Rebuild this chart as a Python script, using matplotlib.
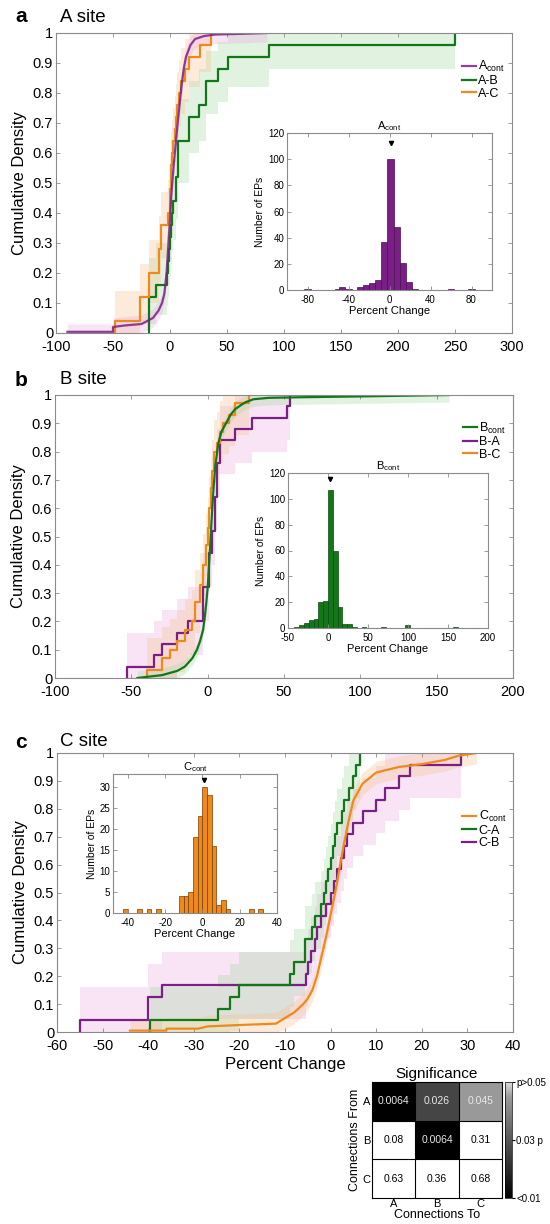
import matplotlib
matplotlib.use("Agg")
import matplotlib.pyplot as plt
import matplotlib.colors as mcolors
import numpy as np

plt.rcParams['font.family'] = ['Liberation Sans', 'DejaVu Sans']
plt.rcParams['mathtext.fontset'] = 'custom'
plt.rcParams['mathtext.rm'] = 'Liberation Sans'
plt.rcParams['axes.unicode_minus'] = False

PURPLE = '#7a1f86'
GREEN = '#13771a'
ORANGE = '#ee8a1c'
PURPLE_BAND = '#e9a6e0'
GREEN_BAND = '#9ed69e'
ORANGE_BAND = '#f7c08a'
AXCOL = '#8a8a8a'

########################################################
# data
########################################################

# panel a: A site
x_acont = [-90, -50, -50, -40, -25, -15, -10, -7, -5, -3, -2, -1, 0, 1, 2, 3, 5, 7, 10, 12, 14, 18, 22, 30, 40, 60, 85]
y_acont = [0.004, 0.004, 0.02, 0.025, 0.03, 0.05, 0.075, 0.1, 0.13, 0.2, 0.26, 0.32, 0.38, 0.45, 0.5, 0.55, 0.63, 0.71, 0.82, 0.88, 0.92, 0.96, 0.98, 0.99, 0.995, 0.997, 1.0]
lo_acont = [0, 0, 0, 0, 0, 0.02, 0.045, 0.07, 0.1, 0.17, 0.23, 0.29, 0.35, 0.42, 0.47, 0.52, 0.6, 0.68, 0.79, 0.85, 0.89, 0.93, 0.95, 0.96, 0.965, 0.967, 0.97]
hi_acont = [0.03, 0.03, 0.05, 0.055, 0.06, 0.08, 0.105, 0.13, 0.16, 0.23, 0.29, 0.35, 0.41, 0.48, 0.53, 0.58, 0.66, 0.74, 0.85, 0.91, 0.95, 0.99, 1.0, 1.0, 1.0, 1.0, 1.0]

x_ab = [-18, -18, -12, -3, -2, -1, 0, 1, 2, 3, 5, 7, 17, 25, 32, 42, 51, 87, 250]
y_ab = [0, 0.12, 0.16, 0.20, 0.24, 0.28, 0.32, 0.36, 0.40, 0.44, 0.52, 0.64, 0.72, 0.76, 0.84, 0.88, 0.92, 0.96, 1.00]
lo_ab = [0, 0.03, 0.06, 0.09, 0.12, 0.16, 0.19, 0.23, 0.27, 0.31, 0.38, 0.50, 0.60, 0.64, 0.73, 0.77, 0.82, 0.88, 0.95]
hi_ab = [0, 0.25, 0.30, 0.34, 0.38, 0.42, 0.46, 0.50, 0.54, 0.58, 0.66, 0.78, 0.84, 0.88, 0.94, 0.97, 1.0, 1.0, 1.0]

x_ac = [-48, -48, -26, -18, -10, -8, -2, 0, 1, 2, 3, 4, 5, 6, 8, 10, 13, 17, 26, 36]
y_ac = [0, 0.04, 0.12, 0.20, 0.28, 0.36, 0.40, 0.48, 0.56, 0.60, 0.64, 0.68, 0.72, 0.76, 0.80, 0.84, 0.88, 0.92, 0.96, 1.00]
lo_ac = [0, 0, 0.03, 0.10, 0.17, 0.25, 0.29, 0.37, 0.45, 0.49, 0.53, 0.57, 0.61, 0.65, 0.69, 0.73, 0.77, 0.82, 0.87, 0.92]
hi_ac = [0, 0.14, 0.23, 0.31, 0.39, 0.47, 0.51, 0.59, 0.67, 0.71, 0.75, 0.79, 0.83, 0.87, 0.91, 0.95, 0.98, 1.0, 1.0, 1.0]

hist_a_centers = [-80, -50, -46, -40, -29, -23, -17, -11, -5, 1, 7, 13, 19, 25, 60, 80]
hist_a_counts = [1, 1, 2, 1, 2, 4, 5, 8, 37, 100, 48, 21, 6, 1, 1, 1]

# panel b: B site
x_bcont = [-46, -40, -30, -20, -15, -10, -7, -5, -3, -2, -1, 0, 1, 2, 3, 4, 5, 7, 9, 12, 15, 18, 22, 25, 30, 40, 60, 100, 158]
y_bcont = [0.0, 0.004, 0.01, 0.025, 0.04, 0.07, 0.1, 0.13, 0.17, 0.21, 0.26, 0.32, 0.41, 0.5, 0.6, 0.68, 0.75, 0.83, 0.87, 0.9, 0.93, 0.95, 0.965, 0.975, 0.985, 0.99, 0.992, 0.995, 1.0]
lo_bcont = [0, 0, 0, 0, 0.015, 0.045, 0.075, 0.105, 0.145, 0.185, 0.235, 0.295, 0.385, 0.475, 0.575, 0.655, 0.725, 0.805, 0.845, 0.875, 0.905, 0.925, 0.94, 0.95, 0.96, 0.965, 0.967, 0.97, 0.975]
hi_bcont = [0.025, 0.029, 0.035, 0.05, 0.065, 0.095, 0.125, 0.155, 0.195, 0.235, 0.285, 0.345, 0.435, 0.525, 0.625, 0.705, 0.775, 0.855, 0.895, 0.925, 0.955, 0.975, 0.99, 1.0, 1.0, 1.0, 1.0, 1.0, 1.0]

x_ba = [-53, -53, -35, -30, -20, -13, -3, 1, 3, 5, 6, 8, 18, 29, 52, 54]
y_ba = [0, 0.04, 0.08, 0.12, 0.16, 0.20, 0.32, 0.44, 0.52, 0.64, 0.76, 0.84, 0.88, 0.92, 0.96, 1.0]
lo_ba = [0, 0, 0, 0, 0.04, 0.08, 0.2, 0.32, 0.4, 0.52, 0.64, 0.72, 0.76, 0.8, 0.84, 0.9]
hi_ba = [0, 0.16, 0.2, 0.24, 0.28, 0.32, 0.44, 0.56, 0.64, 0.76, 0.88, 0.96, 1.0, 1.0, 1.0, 1.0]

x_bc = [-40, -40, -30, -25, -20, -15, -10, -8, -5, -3, -1, 0, 1, 2, 3, 4, 6, 8, 10, 14, 18, 27]
y_bc = [0, 0.03, 0.07, 0.10, 0.13, 0.17, 0.20, 0.27, 0.33, 0.40, 0.47, 0.53, 0.60, 0.67, 0.73, 0.80, 0.83, 0.87, 0.90, 0.93, 0.97, 1.0]
lo_bc = [0, 0, 0, 0, 0.02, 0.06, 0.09, 0.16, 0.22, 0.29, 0.36, 0.42, 0.49, 0.56, 0.62, 0.69, 0.72, 0.76, 0.79, 0.82, 0.86, 0.9]
hi_bc = [0, 0.14, 0.18, 0.21, 0.24, 0.28, 0.31, 0.38, 0.44, 0.51, 0.58, 0.64, 0.71, 0.78, 0.84, 0.91, 0.94, 0.98, 1.0, 1.0, 1.0, 1.0]

hist_b_centers = [-39, -33, -27, -21, -15, -9, -3, 3, 9, 15, 21, 27, 33, 45, 69, 99, 159]
hist_b_counts = [1, 2, 4, 6, 7, 20, 21, 107, 60, 16, 3, 3, 1, 1, 1, 2, 1]

# panel c: C site
x_ccont = [-44, -36, -36, -29, -27, -20, -12, -10, -8, -6, -5, -4, -3, -2, -1, 0, 1, 2, 3, 4, 5, 7, 10, 15, 20, 25, 28, 32]
y_ccont = [0.005, 0.005, 0.012, 0.012, 0.02, 0.025, 0.03, 0.05, 0.07, 0.1, 0.12, 0.15, 0.2, 0.27, 0.34, 0.42, 0.5, 0.59, 0.68, 0.76, 0.83, 0.89, 0.93, 0.95, 0.96, 0.975, 0.99, 1.0]
lo_ccont = [0, 0, 0, 0, 0, 0, 0, 0.01, 0.03, 0.06, 0.08, 0.11, 0.16, 0.23, 0.3, 0.38, 0.46, 0.55, 0.64, 0.72, 0.79, 0.85, 0.89, 0.91, 0.92, 0.935, 0.95, 0.96]
hi_ccont = [0.045, 0.045, 0.052, 0.052, 0.06, 0.065, 0.07, 0.09, 0.11, 0.14, 0.16, 0.19, 0.24, 0.31, 0.38, 0.46, 0.54, 0.63, 0.72, 0.8, 0.87, 0.93, 0.97, 0.99, 1.0, 1.0, 1.0, 1.0]

x_ca = [-39.6, -39.6, -24.6, -22, -20, -9, -8, -5.7, -4, -3.5, -2, -1.5, -1, -0.5, 0, 0.5, 1, 1.5, 2.5, 3, 4, 5, 5.5, 6.4]
y_ca = [0, 0.042, 0.083, 0.125, 0.167, 0.208, 0.25, 0.333, 0.375, 0.417, 0.458, 0.5, 0.542, 0.583, 0.625, 0.667, 0.708, 0.75, 0.792, 0.833, 0.875, 0.917, 0.958, 1.0]
lo_ca = [0, 0, 0, 0.005, 0.047, 0.088, 0.13, 0.213, 0.255, 0.297, 0.338, 0.38, 0.422, 0.463, 0.505, 0.547, 0.588, 0.63, 0.672, 0.713, 0.755, 0.797, 0.838, 0.88]
hi_ca = [0, 0.162, 0.203, 0.245, 0.287, 0.328, 0.37, 0.453, 0.495, 0.537, 0.578, 0.62, 0.662, 0.703, 0.745, 0.787, 0.828, 0.87, 0.912, 0.953, 0.995, 1.0, 1.0, 1.0]

x_cb = [-55, -55, -40, -37, -5.5, -5, -4.3, -3.5, -3, -2, -1, 0, 0.7, 1.5, 2.3, 3, 3.6, 5, 7, 10, 12, 15, 17.5, 28.5]
y_cb = [0, 0.042, 0.125, 0.167, 0.208, 0.25, 0.292, 0.333, 0.375, 0.417, 0.458, 0.5, 0.542, 0.583, 0.625, 0.667, 0.708, 0.75, 0.792, 0.833, 0.875, 0.917, 0.958, 1.0]
lo_cb = [0, 0, 0.005, 0.047, 0.088, 0.13, 0.172, 0.213, 0.255, 0.297, 0.338, 0.38, 0.422, 0.463, 0.505, 0.547, 0.588, 0.63, 0.672, 0.713, 0.755, 0.797, 0.838, 0.88]
hi_cb = [0, 0.162, 0.245, 0.287, 0.328, 0.37, 0.412, 0.453, 0.495, 0.537, 0.578, 0.62, 0.662, 0.703, 0.745, 0.787, 0.828, 0.87, 0.912, 0.953, 0.995, 1.0, 1.0, 1.0]

hist_c_centers = [-41.25, -33.75, -28.75, -23.75, -11.25, -8.75, -6.25, -3.75, -1.25, 1.25, 3.75, 6.25, 8.75, 11.25, 13.75, 26.25, 31.25]
hist_c_counts = [1, 1, 1, 1, 4, 4, 5, 18, 23, 30, 28, 16, 2, 3, 1, 1, 1]

# significance matrix
sig_rows = ['A', 'B', 'C']
sig_cols = ['A', 'B', 'C']
sig_p = [[0.0064, 0.026, 0.045],
         [0.08, 0.0064, 0.31],
         [0.63, 0.36, 0.68]]
sig_text = [['0.0064', '0.026', '0.045'],
            ['0.08', '0.0064', '0.31'],
            ['0.63', '0.36', '0.68']]

yticks = [0, 0.1, 0.2, 0.3, 0.4, 0.5, 0.6, 0.7, 0.8, 0.9, 1]
yticklabels = ['0', '0.1', '0.2', '0.3', '0.4', '0.5', '0.6', '0.7', '0.8', '0.9', '1']


fig = plt.figure(figsize=(5.5, 12.24), dpi=100)


def px_axes(left, top, right, bottom):
    W, H = 550.0, 1224.0
    return fig.add_axes([left / W, 1 - bottom / H, (right - left) / W, (bottom - top) / H])


def style(ax, size, xpad=2):
    for s in ax.spines.values():
        s.set_color(AXCOL)
        s.set_linewidth(0.8)
    ax.tick_params(direction='in', top=True, right=True, length=3, width=0.6,
                   color=AXCOL, labelsize=size, pad=2)
    ax.tick_params(axis='x', pad=xpad)


def main_panel(ax, xlim, xticks):
    ax.set_xlim(xlim)
    ax.set_ylim(0, 1)
    ax.set_xticks(xticks)
    ax.set_yticks(yticks)
    ax.set_yticklabels(yticklabels)
    style(ax, 10.5, xpad=5)
    ax.set_ylabel('Cumulative Density', fontsize=12, labelpad=4)


def band(ax, x, lo, hi, color, step=True):
    if step:
        ax.fill_between(x, lo, hi, step='post', color=color, alpha=0.3, lw=0)
    else:
        ax.fill_between(x, lo, hi, color=color, alpha=0.3, lw=0)


def inset_hist(ax, centers, counts, width, color, edge, xlim, xticks, ylim, yticks, title, peak):
    ax.bar(centers, counts, width=width, color=color, edgecolor=edge, linewidth=0.5)
    ax.set_xlim(xlim)
    ax.set_ylim(ylim)
    ax.set_xticks(xticks)
    ax.set_yticks(yticks)
    style(ax, 7, xpad=3.5)
    ax.set_xlabel('Percent Change', fontsize=8, labelpad=1)
    ax.set_ylabel('Number of EPs', fontsize=7.5, labelpad=2)
    ax.set_title(title, fontsize=8, pad=3)
    ax.plot([peak[0]], [peak[1]], marker='v', color='black', markersize=3, ls='none')


########################################################
#%% panel a
########################################################
ax = px_axes(56, 33, 512, 333)
band(ax, x_ab, lo_ab, hi_ab, GREEN_BAND)
band(ax, x_ac, lo_ac, hi_ac, ORANGE_BAND)
band(ax, x_acont, lo_acont, hi_acont, PURPLE_BAND, step=False)
ax.step(x_ab, y_ab, where='post', color=GREEN, lw=1.6, label='A-B')
ax.step(x_ac, y_ac, where='post', color=ORANGE, lw=1.6, label='A-C')
ax.plot(x_acont, y_acont, color=PURPLE, lw=1.6, alpha=0.85, label='A$_{\\rm cont}$')
main_panel(ax, (-100, 300), [-100, -50, 0, 50, 100, 150, 200, 250, 300])
h, l = ax.get_legend_handles_labels()
ax.legend([h[2], h[0], h[1]], [l[2], l[0], l[1]], loc='upper right', bbox_to_anchor=(1.01, 0.95),
          frameon=False, fontsize=9, handlelength=1.1, handletextpad=0.2, labelspacing=0.05)
fig.text(15 / 550, 1 - 17 / 1224, 'a', fontsize=15, fontweight='bold', va='center')
fig.text(60 / 550, 1 - 17 / 1224, 'A site', fontsize=13.5, va='center')

ins = px_axes(287, 133, 492, 290)
inset_hist(ins, hist_a_centers, hist_a_counts, 6, PURPLE, '#4a0f50', (-100, 100), [-80, -40, 0, 40, 80],
           (0, 120), [0, 20, 40, 60, 80, 100, 120], 'A$_{\\rm cont}$', (1, 112))

########################################################
#%% panel b
########################################################
ax = px_axes(55, 395, 513, 678)
band(ax, x_ba, lo_ba, hi_ba, PURPLE_BAND)
band(ax, x_bc, lo_bc, hi_bc, ORANGE_BAND)
band(ax, x_bcont, lo_bcont, hi_bcont, GREEN_BAND, step=False)
ax.step(x_ba, y_ba, where='post', color=PURPLE, lw=1.6, label='B-A')
ax.step(x_bc, y_bc, where='post', color=ORANGE, lw=1.6, label='B-C')
ax.plot(x_bcont, y_bcont, color=GREEN, lw=1.6, label='B$_{\\rm cont}$')
main_panel(ax, (-100, 200), [-100, -50, 0, 50, 100, 150, 200])
h, l = ax.get_legend_handles_labels()
ax.legend([h[2], h[0], h[1]], [l[2], l[0], l[1]], loc='upper right', bbox_to_anchor=(1.01, 0.95),
          frameon=False, fontsize=9, handlelength=1.1, handletextpad=0.2, labelspacing=0.05)
fig.text(15 / 550, 1 - 380 / 1224, 'b', fontsize=15, fontweight='bold', va='center')
fig.text(60 / 550, 1 - 380 / 1224, 'B site', fontsize=13.5, va='center')

ins = px_axes(288, 473, 488, 628)
inset_hist(ins, hist_b_centers, hist_b_counts, 6, GREEN, '#0a4a0e', (-50, 200), [-50, 0, 50, 100, 150, 200],
           (0, 120), [0, 20, 40, 60, 80, 100, 120], 'B$_{\\rm cont}$', (3, 115))

########################################################
#%% panel c
########################################################
ax = px_axes(57, 753, 513, 1032)
band(ax, x_cb, lo_cb, hi_cb, PURPLE_BAND)
band(ax, x_ca, lo_ca, hi_ca, GREEN_BAND)
band(ax, x_ccont, lo_ccont, hi_ccont, ORANGE_BAND, step=False)
ax.step(x_cb, y_cb, where='post', color=PURPLE, lw=1.6, label='C-B')
ax.step(x_ca, y_ca, where='post', color=GREEN, lw=1.6, label='C-A')
ax.plot(x_ccont, y_ccont, color=ORANGE, lw=1.6, label='C$_{\\rm cont}$')
main_panel(ax, (-60, 40), [-60, -50, -40, -30, -20, -10, 0, 10, 20, 30, 40])
ax.set_xlabel('Percent Change', fontsize=12, labelpad=3)
h, l = ax.get_legend_handles_labels()
ax.legend([h[2], h[1], h[0]], [l[2], l[1], l[0]], loc='upper right', bbox_to_anchor=(1.01, 0.84),
          frameon=False, fontsize=9, handlelength=1.1, handletextpad=0.2, labelspacing=0.05)
fig.text(15 / 550, 1 - 742 / 1224, 'c', fontsize=15, fontweight='bold', va='center')
fig.text(60 / 550, 1 - 742 / 1224, 'C site', fontsize=13.5, va='center')

ins = px_axes(113, 774, 277, 913)
inset_hist(ins, hist_c_centers, hist_c_counts, 2.5, ORANGE, '#7a3c05', (-48, 40), [-40, -20, 0, 20, 40],
           (0, 33), [0, 5, 10, 15, 20, 25, 30], 'C$_{\\rm cont}$', (0.8, 31.5))

########################################################
#%% significance matrix
########################################################
sig_cmap = mcolors.LinearSegmentedColormap.from_list(
    'sig', [(0, 'black'), (0.4, '#454545'), (0.875, '#9a9a9a'), (1, '#dedede')])
sig_cmap.set_over('white')
ax = px_axes(372, 1082, 502, 1198)
im = ax.imshow(sig_p, cmap=sig_cmap, vmin=0.01, vmax=0.05, aspect='auto')
for i in range(3):
    for j in range(3):
        col = '#e8e8e8' if sig_p[i][j] < 0.05 else 'black'
        ax.text(j, i, sig_text[i][j], ha='center', va='center', fontsize=7.5, color=col)
for k in [0.5, 1.5]:
    ax.axhline(k, color='black', lw=0.8)
    ax.axvline(k, color='black', lw=0.8)
ax.set_xticks(range(3))
ax.set_xticklabels(sig_cols)
ax.set_yticks(range(3))
ax.set_yticklabels(sig_rows)
ax.tick_params(length=0, labelsize=8, pad=1)
ax.set_xlabel('Connections To', fontsize=9, labelpad=0)
ax.set_ylabel('Connections From', fontsize=9, labelpad=1)
ax.set_title('Significance', fontsize=11, pad=3)

cax = px_axes(505, 1082, 512, 1198)
cb = fig.colorbar(im, cax=cax, ticks=[0.01, 0.03, 0.05])
cb.ax.set_yticklabels(['<0.01', '0.03 p', 'p>0.05'])
cb.ax.tick_params(labelsize=7, length=2, pad=1)
cb.outline.set_linewidth(0.5)

fig.savefig('out.png', dpi=100)
